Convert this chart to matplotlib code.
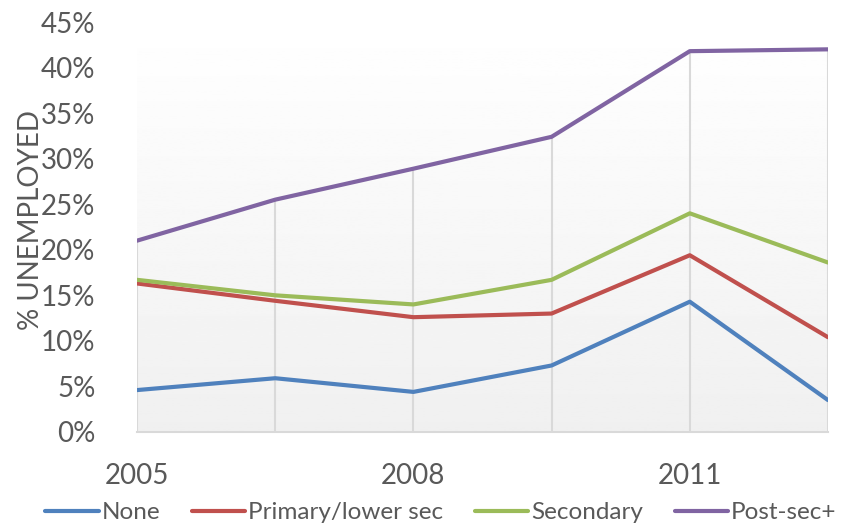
import numpy as np
import matplotlib

matplotlib.use("Agg")
import matplotlib.pyplot as plt

periods = ["2005", "", "2008", "", "2011", ""]
none = [4.6, 5.9, 4.4, 7.3, 14.3, 3.5]
primary = [16.3, 14.4, 12.6, 13.0, 19.4, 10.4]
secondary = [16.7, 15.0, 14.0, 16.7, 24.0, 18.6]
post_sec = [21.0, 25.5, 28.9, 32.4, 41.8, 42.0]
series_names = ["None", "Primary/lower sec", "Secondary", "Post-sec+"]
yticks = [0, 5, 10, 15, 20, 25, 30, 35, 40, 45]

colors = ["#4f81bd", "#c0504d", "#9bbb59", "#8064a2"]
text_color = "#595959"
plt.rcParams["font.family"] = ["Lato", "DejaVu Sans"]

fig = plt.figure(figsize=(8.48, 5.24), dpi=100)
ax = fig.add_axes([0.1616, 0.1756, 0.8148, 0.7824])

x = np.arange(len(periods))

# gradient plot-area fill, grey at bottom to white at top
grad = np.linspace(0.94, 1.0, 256).reshape(-1, 1)
ax.imshow(grad, extent=[x[0], x[-1], 0, 45], origin="lower", cmap="gray",
          vmin=0, vmax=1, aspect="auto", zorder=0)

# drop lines from the highest series down to the axis
ax.vlines(x, 0, post_sec, color="#d9d9d9", lw=1.5, zorder=1)

for vals, name, c in zip([none, primary, secondary, post_sec], series_names, colors):
    ax.plot(x, vals, color=c, lw=3, label=name, zorder=3, solid_capstyle="round")

ax.set_xlim(x[0], x[-1])
ax.set_ylim(0, 45)
ax.set_yticks(yticks)
ax.set_yticklabels([f"{v}%" for v in yticks])
ax.set_xticks(x[::2])
ax.set_xticklabels(periods[::2])
ax.tick_params(length=0, labelsize=20, colors=text_color)
ax.tick_params(axis="y", pad=30)
ax.tick_params(axis="x", pad=22)
for lbl in ax.get_yticklabels():
    lbl.set_horizontalalignment("right")
for side in ["top", "right", "left"]:
    ax.spines[side].set_visible(False)
ax.spines["bottom"].set_color("#d9d9d9")
ax.spines["bottom"].set_linewidth(1.5)

fig.text(0.036, 0.58, "% UNEMPLOYED", rotation=90, ha="center", va="center",
         fontsize=20, color=text_color)

fig.legend(loc="lower center", bbox_to_anchor=(0.52, -0.04), ncol=4, frameon=False,
           fontsize=17.5, labelcolor=text_color, handlelength=2.2, handletextpad=0.12,
           columnspacing=1.3)

fig.savefig("out.png", dpi=100)
